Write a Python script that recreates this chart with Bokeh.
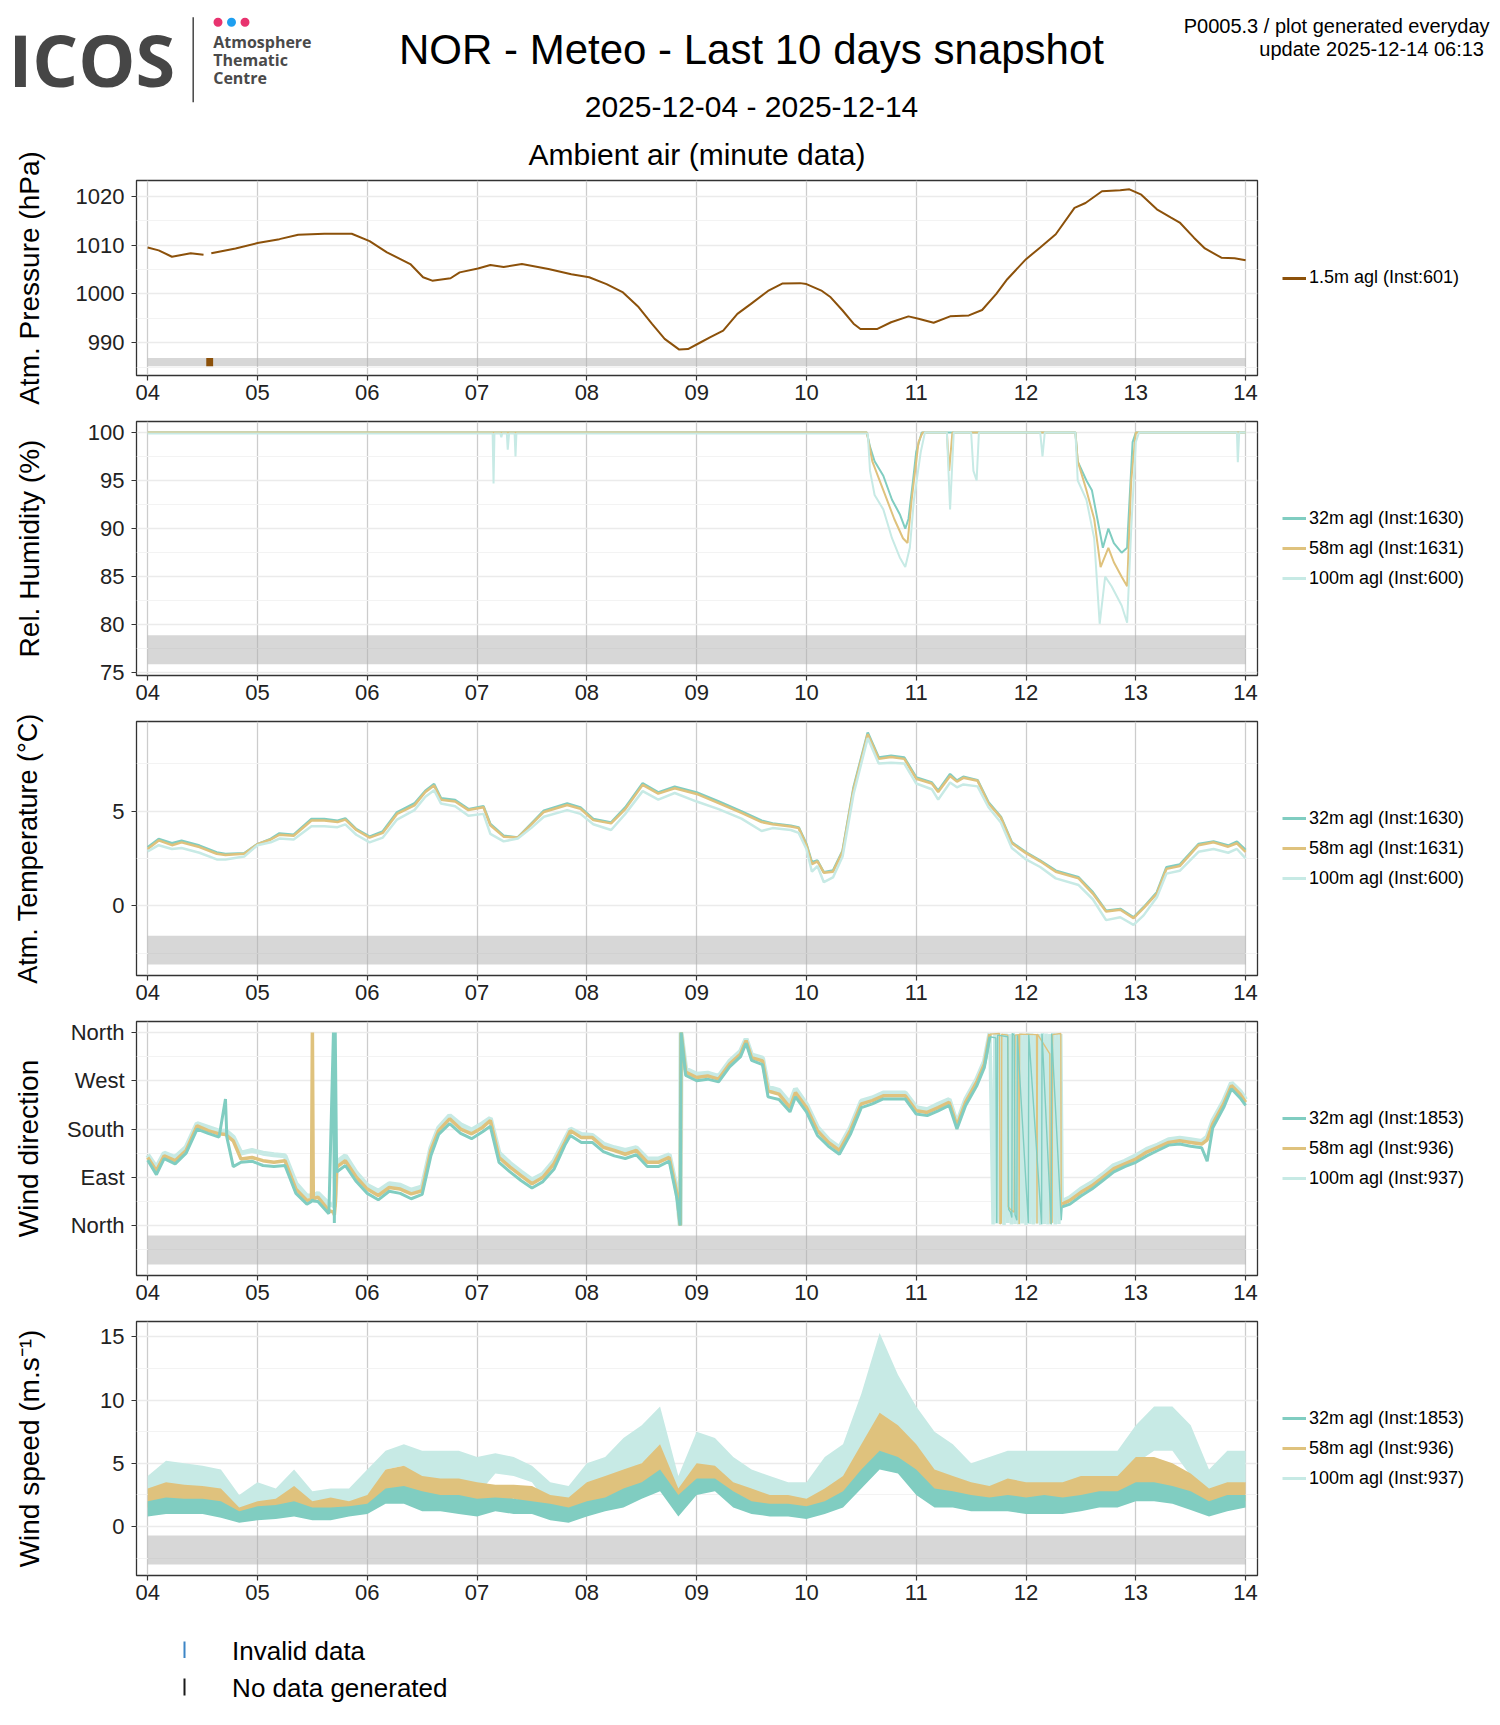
import numpy as np
import pandas as pd
from bokeh.plotting import figure
from bokeh.layouts import row
from bokeh.models import Range1d, FixedTicker, DatetimeTickFormatter, Legend, LegendItem, Title
from bokeh.embed import file_html
from bokeh.resources import INLINE
from bokeh.core.properties import value

nan = float("nan")

# ---------------- data (hours since 2025-12-04 00:00) ----------------
p_hours = [0, 2.4, 5.3, 9.4, 12.2, 13.0, 13.9, 19.2, 24, 28.8, 32.9, 38.6, 44.6, 48.5, 52.3, 57.4, 60.2, 62.2, 66.2, 68.2,
           72.2, 74.9, 77.8, 81.8, 87.6, 92.6, 96.5, 100.3, 103.9, 107.3, 110.2, 113.0, 116.2, 118.1, 120.5, 122.9, 125.8, 128.9, 131.8, 135.6,
           138.7, 142.6, 144, 147.4, 149.3, 151.9, 154.3, 155.8, 159.4, 162.5, 166.3, 168.5, 171.8, 175.4, 179.5, 182.4, 185.5, 187.9, 192, 195.1,
           198.5, 202.6, 205.0, 208.6, 212.6, 214.6, 217.2, 220.6, 223.7, 225.6, 228.7, 231.1, 234.7, 237.6, 240]
pressure = [1009.5, 1008.9, 1007.6, 1008.3, 1008.0, nan, 1008.3, 1009.3, 1010.4, 1011.2, 1012.1, 1012.3, 1012.3, 1010.8, 1008.5, 1006.1, 1003.4, 1002.7, 1003.2, 1004.4,
            1005.2, 1005.9, 1005.5, 1006.1, 1005.1, 1004.0, 1003.4, 1002.0, 1000.3, 997.3, 993.9, 990.8, 988.6, 988.7, 989.9, 991.1, 992.5, 995.9, 997.9, 1000.6,
            1002.1, 1002.2, 1002.0, 1000.6, 999.3, 996.6, 993.9, 992.8, 992.8, 994.2, 995.4, 994.9, 994.1, 995.4, 995.6, 996.7, 1000.0, 1003.0, 1007.1, 1009.5,
            1012.2, 1017.6, 1018.6, 1021.0, 1021.2, 1021.4, 1020.3, 1017.3, 1015.6, 1014.6, 1011.5, 1009.3, 1007.4, 1007.3, 1006.9]
p_invalid_start = [12.8]
p_invalid_end = [14.3]

rh32_hours = [0, 157.2, 157.9, 158.9, 160.8, 162.7, 164.4, 165.6, 166.3, 167.3, 168.0, 169.2, 202.8, 203.3, 205.2, 206.4, 207.6,
              208.8, 210.0, 211.2, 212.9, 214.1, 214.3, 215.3, 216.0, 240]
rh32 = [100, 100, 98.5, 97, 95.5, 93, 91.5, 90, 91, 95, 98, 100, 100, 97, 95, 94, 91, 88, 90, 88.5, 87.5, 88, 90, 99, 100, 100]
rh58_hours = [0, 157.2, 158.4, 160.8, 163.2, 165.1, 166.1, 167.0, 168.5, 169.4, 174.7, 175.2, 175.9, 202.8, 203.3, 205.2, 206.9,
              208.3, 210.0, 211.2, 212.9, 214.1, 215.0, 216.0, 240]
rh58 = [100, 100, 97, 94, 91, 89, 88.5, 93, 99, 100, 100, 96, 100, 100, 97, 94, 91, 86, 88, 86.5, 85, 84, 95, 100, 100]
rh100_hours = [0, 75.4, 75.6, 75.8, 77.1, 77.3, 77.5, 78.5, 78.7, 79.0, 80.2, 80.4, 80.6, 157.4, 157.9, 158.9, 160.8, 162.7, 164.4, 165.6,
               166.6, 167.5, 169.0, 169.9, 174.7, 175.4, 176.2, 180.0, 180.5, 181.2, 181.7, 195.1, 195.6, 196.1, 202.8, 203.3, 205.2, 206.9, 208.1, 209.3,
               210.7, 212.9, 214.1, 215.0, 216.0, 216.7, 238.1, 238.3, 238.6, 240]
rh100 = [99.9, 99.9, 94.7, 99.9, 99.9, 99.5, 99.9, 99.9, 98.2, 99.9, 99.9, 97.5, 99.9, 99.9, 96, 93.5, 92, 89, 87, 86,
         88, 93, 98, 100, 100, 92, 100, 100, 96, 95, 100, 100, 97.5, 100, 100, 95, 93, 89, 80.1, 85,
         84, 82, 80.2, 90, 99, 100, 100, 96.9, 100, 100]

t_hours = [0, 2.4, 5.3, 7.4, 11.3, 15.1, 17.0, 21.1, 24, 26.9, 28.8, 31.9, 35.8, 38.6, 41.5, 43.2, 45.6, 48.5, 51.4, 54.5,
           58.3, 60.7, 62.6, 64.1, 67.2, 70.1, 73.4, 74.9, 77.8, 80.9, 83.8, 86.6, 91.7, 94.6, 97.4, 101.3, 104.4, 108.2, 111.6, 115.2,
           120, 124.8, 129.8, 134.2, 136.6, 140.6, 142.3, 144, 145.2, 146.4, 147.8, 149.8, 151.9, 154.3, 157.4, 159.8, 162.5, 165.4, 168, 171.4,
           172.8, 175.4, 176.9, 178.3, 181.4, 183.8, 186.5, 188.9, 192, 195.1, 198.5, 203.5, 206.6, 209.5, 212.6, 215.5, 217.7, 220.6, 222.7, 225.6,
           229.7, 233.0, 236.2, 238.1, 240]
t32 = [3.09, 3.53, 3.3, 3.44, 3.18, 2.82, 2.74, 2.77, 3.26, 3.53, 3.82, 3.75, 4.58, 4.58, 4.49, 4.61, 4.05, 3.65, 3.93, 4.93,
       5.4, 6.07, 6.42, 5.68, 5.58, 5.1, 5.25, 4.32, 3.7, 3.61, 4.32, 5.02, 5.4, 5.19, 4.58, 4.4, 5.19, 6.46, 5.98, 6.28,
       5.98, 5.51, 4.98, 4.49, 4.35, 4.23, 4.14, 3.26, 2.3, 2.39, 1.77, 1.86, 2.91, 6.25, 9.14, 7.82, 7.91, 7.82, 6.77, 6.51,
       6.07, 6.95, 6.6, 6.81, 6.63, 5.46, 4.7, 3.35, 2.82, 2.39, 1.86, 1.51, 0.72, -0.25, -0.16, -0.6, -0.07, 0.72, 2.04, 2.18,
       3.26, 3.39, 3.18, 3.39, 2.95]
t58 = [3.0, 3.45, 3.2, 3.35, 3.1, 2.75, 2.68, 2.75, 3.25, 3.5, 3.75, 3.7, 4.5, 4.5, 4.42, 4.55, 4.0, 3.6, 3.85, 4.85,
       5.3, 6.0, 6.35, 5.6, 5.5, 5.05, 5.2, 4.25, 3.65, 3.6, 4.28, 4.95, 5.32, 5.12, 4.52, 4.35, 5.1, 6.38, 5.92, 6.2,
       5.9, 5.42, 4.9, 4.42, 4.3, 4.18, 4.1, 3.2, 2.2, 2.35, 1.75, 1.8, 2.85, 6.15, 9.05, 7.75, 7.85, 7.75, 6.7, 6.45,
       6.0, 6.85, 6.55, 6.75, 6.6, 5.4, 4.65, 3.3, 2.78, 2.35, 1.8, 1.45, 0.65, -0.3, -0.2, -0.65, -0.12, 0.65, 1.95, 2.1,
       3.2, 3.35, 3.12, 3.3, 2.85]
t100 = [2.87, 3.2, 3.0, 3.05, 2.8, 2.45, 2.45, 2.6, 3.2, 3.35, 3.55, 3.5, 4.2, 4.2, 4.15, 4.3, 3.75, 3.35, 3.6, 4.55,
        5.05, 5.75, 6.1, 5.4, 5.25, 4.75, 4.85, 3.8, 3.4, 3.55, 4.1, 4.7, 5.05, 4.85, 4.3, 4.0, 4.85, 6.05, 5.6, 5.95,
        5.5, 5.1, 4.6, 3.95, 4.1, 4.0, 3.85, 3.0, 1.8, 2.1, 1.25, 1.5, 2.6, 5.9, 8.85, 7.5, 7.55, 7.5, 6.45, 6.15,
        5.6, 6.5, 6.25, 6.4, 6.3, 5.2, 4.4, 3.05, 2.45, 2.05, 1.45, 1.1, 0.35, -0.75, -0.6, -1.0, -0.5, 0.45, 1.7, 1.85,
        2.85, 3.0, 2.8, 3.0, 2.5]

wd_hours = [0, 1.9, 3.6, 6.0, 8.4, 10.8, 13.2, 15.6, 17.0, 17.3, 18.7, 20.4, 22.8, 25.2, 27.6, 30.0, 32.4, 34.8, 35.8, 36.0,
            36.2, 37.2, 39.6, 40.6, 40.8, 41.0, 41.3, 43.2, 45.6, 48.0, 50.4, 52.8, 55.2, 57.6, 60.0, 61.9, 63.6, 66.0, 68.4, 70.8,
            73.2, 74.9, 76.8, 79.2, 81.6, 84.0, 86.4, 88.8, 91.2, 92.4, 94.8, 97.2, 99.6, 102.0, 104.4, 106.8, 109.2, 111.6, 114.0, 115.7,
            116.4, 116.6, 117.6, 120.0, 122.4, 124.8, 127.2, 129.6, 130.8, 132.0, 134.4, 135.6, 138.0, 140.4, 141.6, 144.0, 146.4, 148.8, 151.2, 153.6,
            156.0, 158.4, 160.8, 163.2, 165.6, 168.0, 170.4, 172.8, 175.2, 176.9, 178.8, 181.2, 182.9, 184.1, 192.0, 199.9, 201.6, 204.0, 206.4, 208.8,
            211.2, 213.6, 216.0, 218.4, 220.8, 223.2, 225.6, 228.0, 230.4, 231.6, 232.8, 235.2, 236.9, 238.8, 240.0]
wd32 = [122, 95, 125, 115, 135, 180, 172, 165, 236, 165, 110, 118, 120, 112, 110, 112, 60, 40, 45, 48,
        46, 45, 22, 360, 5, 360, 100, 112, 82, 60, 48, 64, 60, 50, 58, 130, 170, 190, 172, 162,
        175, 185, 118, 100, 84, 70, 82, 105, 150, 168, 155, 155, 138, 130, 125, 132, 110, 110, 120, 50,
        0, 360, 280, 270, 273, 268, 296, 315, 340, 308, 300, 240, 235, 212, 240, 212, 168, 148, 133, 170,
        220, 227, 236, 236, 236, 208, 205, 214, 224, 180, 224, 260, 295, 352, nan, 35, 40, 55, 68, 84,
        100, 110, 118, 130, 140, 150, 152, 148, 145, 120, 182, 220, 255, 238, 224]
wd58 = [127, 102, 130, 121, 140, 186, 177, 171, 170, 168, 158, 124, 127, 121, 118, 121, 68, 47, 48, 360,
        50, 53, 28, 25, 20, 40, 109, 121, 90, 68, 56, 71, 68, 59, 65, 140, 177, 199, 180, 171,
        183, 196, 127, 109, 93, 78, 90, 115, 155, 177, 164, 164, 146, 140, 133, 140, 118, 118, 127, 59,
        0, 360, 286, 276, 279, 273, 301, 320, 345, 313, 307, 251, 245, 220, 248, 220, 177, 155, 140, 177,
        227, 233, 242, 242, 242, 214, 211, 220, 230, 186, 230, 267, 301, 357, nan, 40, 47, 62, 74, 90,
        106, 115, 124, 137, 146, 155, 158, 155, 152, 160, 189, 227, 261, 245, 230]
wd100 = [132, 108, 135, 127, 146, 190, 183, 176, 176, 175, 165, 135, 140, 135, 132, 130, 78, 55, 55, 56,
         55, 60, 40, 38, 35, 60, 118, 130, 98, 75, 64, 78, 75, 66, 72, 145, 182, 205, 188, 178,
         190, 200, 135, 116, 100, 85, 96, 120, 160, 180, 170, 168, 152, 145, 140, 145, 124, 124, 132, 65,
         0, 360, 292, 282, 284, 278, 306, 325, 348, 318, 312, 258, 252, 228, 255, 226, 183, 160, 145, 182,
         232, 238, 247, 247, 247, 220, 216, 226, 235, 190, 235, 272, 306, 358, nan, 45, 52, 68, 80, 95,
         112, 120, 130, 142, 150, 160, 163, 160, 157, 165, 195, 232, 266, 250, 235]
# northerly spell (direction wrapping round 0/360)
wd32_n_hours = [184.1, 185.4, 185.6, 185.8, 188.0, 188.2, 188.6, 188.9, 189.0, 189.4, 189.6, 190.0, 190.1, 192.5, 192.6,
                195.4, 195.5, 197.5, 197.6, 199.7, 199.9]
wd32_n = [352, 350, 5, 355, 352, 30, 25, 15, 358, 355, 20, 10, 355, 5, 356, 3, 357, 2, 358, 10, 35]
wd58_n_hours = [184.1, 186.2, 186.3, 186.6, 186.7, 188.0, 188.1, 188.6, 189.4, 189.6, 190.4, 190.5, 190.6, 194.3, 194.4,
                194.5, 197.2, 197.3, 197.7, 197.8, 199.6, 199.7, 199.9]
wd58_n = [357, 358, 3, 5, 357, 355, 35, 30, 25, 355, 356, 3, 357, 356, 4, 357, 320, 4, 6, 356, 358, 30, 40]
wd100_n_hours = [184.1, 184.8, 185.2, 185.6, 186.0, 186.4, 186.8, 187.2, 187.6, 188.0, 188.4, 188.8, 189.2, 189.6, 190.0,
                 190.4, 190.8, 191.2, 191.6, 192.0, 192.4, 192.8, 193.2, 193.6, 194.0, 194.4, 194.8, 195.2, 195.6, 196.0,
                 196.4, 196.8, 197.2, 197.6, 198.0, 198.4, 198.8, 199.2, 199.6, 199.9]
wd100_n = [358, 2, 357, 4, 359, 3, 356, 1, 358, 5, 357, 2, 359, 3, 356, 2, 358, 4, 357, 1,
           359, 3, 358, 2, 356, 4, 357, 1, 359, 3, 358, 2, 357, 5, 359, 2, 358, 3, 357, 45]

ws_hours = list(range(0, 241, 4))
ws32_lo = [0.8, 1.0, 1.0, 1.0, 0.7, 0.3, 0.5, 0.6, 0.8, 0.5, 0.5, 0.8, 1.0, 1.8, 1.8, 1.2, 1.2, 1.0, 0.8, 1.2,
           1.0, 1.0, 0.5, 0.3, 0.8, 1.2, 1.5, 2.2, 2.8, 0.8, 2.5, 2.8, 1.5, 1.0, 0.8, 0.8, 0.6, 1.0, 1.5, 3.0,
           4.5, 4.2, 2.5, 1.5, 1.5, 1.2, 1.2, 1.2, 1.0, 1.0, 1.0, 1.2, 1.5, 1.5, 2.0, 2.0, 1.8, 1.3, 0.8, 1.2, 1.5]
ws32_hi = [2.0, 2.3, 2.2, 2.2, 2.0, 1.2, 1.6, 1.7, 2.0, 1.5, 1.5, 1.6, 1.8, 3.0, 3.2, 2.8, 2.5, 2.5, 2.2, 2.3,
           2.2, 2.0, 1.8, 1.5, 2.0, 2.3, 3.0, 3.5, 4.5, 2.5, 3.8, 3.8, 2.8, 2.0, 1.8, 1.8, 1.6, 2.0, 2.8, 4.5,
           6.0, 5.5, 4.5, 3.0, 2.8, 2.5, 2.3, 2.5, 2.3, 2.5, 2.3, 2.5, 2.8, 2.8, 3.5, 3.5, 3.2, 2.8, 2.0, 2.5, 2.5]
ws58_lo = [1.5, 1.8, 1.8, 1.8, 1.5, 0.5, 0.7, 0.9, 1.2, 0.7, 0.8, 1.0, 1.3, 2.5, 3.0, 2.0, 2.0, 1.8, 1.5, 2.0,
           2.2, 1.8, 1.0, 0.8, 1.5, 2.0, 2.5, 3.2, 4.0, 1.0, 3.0, 3.2, 2.0, 1.5, 1.2, 1.2, 1.0, 1.5, 2.0, 3.5,
           5.5, 5.0, 3.5, 2.0, 2.0, 1.8, 1.8, 2.0, 1.8, 1.8, 1.5, 2.0, 2.2, 2.0, 3.0, 3.0, 2.5, 2.0, 1.2, 2.0, 2.0]
ws58_hi = [3.0, 3.5, 3.3, 3.2, 3.0, 1.5, 2.0, 2.2, 3.2, 2.0, 2.3, 2.0, 2.5, 4.5, 4.8, 4.0, 3.8, 3.8, 3.5, 3.3,
           3.3, 3.2, 2.5, 2.3, 3.5, 4.0, 4.5, 5.0, 6.5, 3.0, 5.0, 4.8, 3.5, 3.0, 2.5, 2.5, 2.2, 3.0, 4.0, 6.5,
           9.0, 8.0, 6.5, 4.5, 4.0, 3.5, 3.2, 3.8, 3.5, 3.5, 3.5, 4.0, 4.0, 4.0, 5.5, 5.5, 5.0, 4.2, 3.0, 3.5, 3.5]
ws100_lo = [2.5, 3.0, 3.2, 3.2, 2.5, 0.6, 1.0, 1.2, 1.5, 0.8, 1.0, 1.2, 2.0, 4.5, 4.8, 3.0, 3.0, 3.0, 2.5, 4.2,
            4.0, 3.5, 1.5, 1.2, 2.5, 3.5, 4.0, 5.0, 6.0, 1.0, 4.5, 4.5, 3.0, 2.5, 2.0, 2.0, 1.5, 2.5, 3.5, 6.0,
            8.5, 7.5, 5.0, 3.5, 3.5, 2.5, 3.0, 3.0, 3.0, 3.0, 2.5, 3.5, 3.5, 3.0, 5.0, 6.0, 6.0, 4.0, 1.8, 3.0, 3.5]
ws100_hi = [4.0, 5.2, 5.0, 4.8, 4.5, 2.5, 3.5, 3.0, 4.5, 2.8, 3.0, 3.0, 4.5, 6.0, 6.5, 6.0, 6.0, 6.0, 5.5, 5.8,
            5.5, 4.8, 3.5, 3.2, 5.0, 5.5, 7.0, 8.0, 9.5, 4.0, 7.5, 7.0, 5.5, 4.5, 4.0, 3.5, 3.5, 5.5, 6.5, 10.5,
            15.3, 12.0, 9.5, 7.5, 6.5, 5.0, 5.5, 6.0, 6.0, 6.0, 6.0, 6.0, 6.0, 6.0, 8.0, 9.5, 9.5, 8.0, 4.5, 6.0, 6.0]

labels_rh_t = ["32m agl (Inst:1630)", "58m agl (Inst:1631)", "100m agl (Inst:600)"]
labels_wind = ["32m agl (Inst:1853)", "58m agl (Inst:936)", "100m agl (Inst:937)"]
label_p = "1.5m agl (Inst:601)"

# ---------------- helpers ----------------
T0_MS = pd.Timestamp("2025-12-04 00:00").timestamp() * 1000.0


def tx(hours):
    return T0_MS + np.asarray(hours, dtype=float) * 3.6e6


FONT = "Liberation Sans"
W = 1492
LEFT, FRAME_W, RIGHT = 136, 1121, 2
PW = LEFT + FRAME_W + RIGHT          # width of the plotting figure
LW = W - PW                          # width of the legend figure
C32, C58, C100, CP = "#80CDC1", "#DFC27D", "#C7EAE5", "#8C510A"
day_ticks = [float(v) for v in tx([24 * i for i in range(11)])]


def make_panel(height, top, bottom, yrange, yticks, yminor, ylabel, lab_standoff, band, overrides=None,
               label_size="28px"):
    p = figure(width=PW, height=height, output_backend="svg", toolbar_location=None, title=None,
               x_axis_type="datetime", x_range=Range1d(float(tx(-2.45)), float(tx(242.6))),
               y_range=Range1d(*yrange), min_border_left=LEFT, min_border_right=RIGHT,
               min_border_top=top, min_border_bottom=bottom)
    p.outline_line_color = "#333333"
    p.outline_line_width = 1.3
    xa, ya = p.xaxis[0], p.yaxis[0]
    xa.ticker = FixedTicker(ticks=day_ticks)
    xa.formatter = DatetimeTickFormatter(microseconds="%d", milliseconds="%d", seconds="%d", minsec="%d",
                                         minutes="%d", hourmin="%d", hours="%d", days="%d", months="%d", years="%d")
    ya.ticker = FixedTicker(ticks=yticks, minor_ticks=yminor)
    if overrides:
        ya.major_label_overrides = overrides
    for ax in (xa, ya):
        ax.axis_line_color = None
        ax.major_tick_line_color = "#333333"
        ax.major_tick_line_width = 1.2
        ax.major_tick_out = 5
        ax.major_tick_in = 0
        ax.minor_tick_line_color = None
        ax.major_label_text_font = FONT
        ax.major_label_text_font_size = "22px"
        ax.major_label_text_color = "#222222"
    xa.major_label_standoff = 4
    ya.major_label_standoff = 7
    ya.axis_label = ylabel
    ya.axis_label_text_font = FONT
    ya.axis_label_text_font_size = label_size
    ya.axis_label_text_font_style = "normal"
    ya.axis_label_text_color = "#000000"
    ya.axis_label_standoff = lab_standoff
    p.xgrid.ticker = xa.ticker
    p.xgrid.grid_line_color = "#cccccc"
    p.xgrid.grid_line_width = 1.3
    p.ygrid.ticker = ya.ticker
    p.ygrid.grid_line_color = "#ebebeb"
    p.ygrid.grid_line_width = 1.6
    p.ygrid.minor_grid_line_color = "#f3f3f3"
    p.ygrid.minor_grid_line_width = 1.0
    p.quad(left=tx([0]), right=tx([240]), bottom=[band[0]], top=[band[1]],
           fill_color="#b0b0b0", fill_alpha=0.5, line_color=None)
    return p


def legend_panel(height, top, bottom, entries):
    lf = figure(width=LW, height=height, output_backend="svg", toolbar_location=None, title=None,
                x_range=Range1d(0, 1), y_range=Range1d(0, 1), x_axis_location=None, y_axis_location=None,
                min_border_left=0, min_border_right=0, min_border_top=top, min_border_bottom=bottom)
    lf.outline_line_color = None
    lf.grid.visible = False
    items = []
    for label, color in entries:
        r = lf.line(x=[0.5], y=[nan], line_color=color, line_width=3)
        items.append(LegendItem(label=label, renderers=[r]))
    lg = Legend(items=items, location="center_left", border_line_color=None, background_fill_alpha=0,
                label_text_font=FONT, label_text_font_size="18px", label_text_color="#000000",
                glyph_width=24, glyph_height=22, label_height=22, spacing=8, label_standoff=3,
                margin=23, padding=0)
    lf.add_layout(lg, "center")
    return lf


def blank(height):
    p = figure(width=W, height=height, output_backend="svg", toolbar_location=None, title=None,
               x_range=Range1d(0, W), y_range=Range1d(height, 0),
               x_axis_location=None, y_axis_location=None, min_border=0)
    p.outline_line_color = None
    p.grid.visible = False
    return p


# ---------------- header (coordinates are page pixels, y = vertical centre of text) ----------------
hdr = blank(124)
hdr.text(x=[8], y=[58.4], text=["ICOS"], text_font=value("Open Sans"), text_font_style="bold",
         text_font_size="72px", text_color="#464646", text_baseline="middle", text_align="left")
hdr.segment(x0=[192.7], y0=[16.7], x1=[192.7], y1=[101.7], line_color="#464646", line_width=1.5)
hdr.scatter(x=[217.5, 231, 244.5], y=[21.7, 21.7, 21.7], size=9,
            fill_color=["#e8336f", "#1e9ff0", "#e8336f"], line_color=None)
hdr.text(x=[212.7, 212.7, 212.7], y=[41.2, 59.5, 77.8], text=["Atmosphere", "Thematic", "Centre"],
         text_font=value("Open Sans"), text_font_style="bold", text_font_size="16px", text_color="#4a4a4a",
         text_baseline="middle", text_align="left")
hdr.text(x=[751], y=[48.7], text=["NOR - Meteo - Last 10 days snapshot"], text_font=value(FONT),
         text_font_size="42px", text_color="#000000", text_baseline="middle", text_align="center")
hdr.text(x=[751], y=[105.5], text=["2025-12-04 - 2025-12-14"], text_font=value(FONT),
         text_font_size="30px", text_color="#000000", text_baseline="middle", text_align="center")
hdr.text(x=[1489, 1489], y=[25, 48], text=["P0005.3 / plot generated everyday", "update  2025-12-14 06:13"],
         text_font=value(FONT), text_font_size="20px", text_color="#000000",
         text_baseline="middle", text_align="right")

# ---------------- pressure ----------------
p1 = make_panel(292, 56, 41, (983.3, 1023.2), [990, 1000, 1010, 1020], [985, 995, 1005, 1015, 1025],
                "Atm. Pressure (hPa)", 28, (985.2, 986.9))
p1.add_layout(Title(text="Ambient air (minute data)", align="center", text_font=FONT, text_font_size="30px",
                    text_font_style="normal", text_color="#000000", standoff=20), "above")
p1.line(tx(p_hours), pressure, line_color=CP, line_width=2)
p1.quad(left=tx(p_invalid_start), right=tx(p_invalid_end), bottom=[985.2], top=[986.9],
        fill_color=CP, line_color=None)
l1 = legend_panel(292, 56, 41, [(label_p, CP)])

# ---------------- relative humidity ----------------
p2 = make_panel(294, 5, 35, (74.72, 101.14), [75, 80, 85, 90, 95, 100], [77.5, 82.5, 87.5, 92.5, 97.5],
                "Rel. Humidity (%)", 40, (75.9, 78.9))
p2.line(tx(rh32_hours), rh32, line_color=C32, line_width=2)
p2.line(tx(rh58_hours), rh58, line_color=C58, line_width=2)
p2.line(tx(rh100_hours), rh100, line_color=C100, line_width=2)
l2 = legend_panel(294, 5, 35, list(zip(labels_rh_t, [C32, C58, C100])))

# ---------------- temperature ----------------
p3 = make_panel(306, 11, 41, (-3.67, 9.72), [0, 5], [-2.5, 2.5, 7.5],
                "Atm. Temperature (\u00b0C)", 66, (-3.09, -1.57), label_size="27px")
p3.line(tx(t_hours), t32, line_color=C32, line_width=2.5)
p3.line(tx(t_hours), t58, line_color=C58, line_width=2.5)
p3.line(tx(t_hours), t100, line_color=C100, line_width=2.5)
l3 = legend_panel(306, 11, 41, list(zip(labels_rh_t, [C32, C58, C100])))

# ---------------- wind direction ----------------
p4 = make_panel(300, 5, 41, (-93.1, 380.5), [0, 90, 180, 270, 360], [-45, 45, 135, 225, 315],
                "Wind direction", 20, (-72.6, -18.6),
                overrides={0: "North", 90: "East", 180: "South", 270: "West", 360: "North"})
p4.line(tx(wd_hours), wd100, line_color=C100, line_width=5)
p4.line(tx(wd100_n_hours), wd100_n, line_color=C100, line_width=3.5)
p4.line(tx(wd_hours), wd58, line_color=C58, line_width=3.5)
p4.line(tx(wd58_n_hours), wd58_n, line_color=C58, line_width=1.4)
p4.line(tx(wd_hours), wd32, line_color=C32, line_width=3)
p4.line(tx(wd32_n_hours), wd32_n, line_color=C32, line_width=1.4)
l4 = legend_panel(300, 5, 41, list(zip(labels_wind, [C32, C58, C100])))

# ---------------- wind speed ----------------
p5 = make_panel(300, 5, 41, (-3.87, 16.21), [0, 5, 10, 15], [-2.5, 2.5, 7.5, 12.5],
                "Wind speed (m.s\u207b\u00b9)", 52, (-3.0, -0.71))
p5.varea(x=tx(ws_hours), y1=ws100_lo, y2=ws100_hi, fill_color=C100)
p5.varea(x=tx(ws_hours), y1=ws58_lo, y2=ws58_hi, fill_color=C58)
p5.varea(x=tx(ws_hours), y1=ws32_lo, y2=ws32_hi, fill_color=C32)
l5 = legend_panel(300, 5, 41, list(zip(labels_wind, [C32, C58, C100])))

# ---------------- footer ----------------
ftr = blank(108)
ftr.segment(x0=[184], y0=[25], x1=[184], y1=[41.4], line_color="#3d85c6", line_width=2)
ftr.segment(x0=[184], y0=[62], x1=[184], y1=[79], line_color="#1a1a1a", line_width=2)
ftr.text(x=[231.6, 231.6], y=[34.5, 71], text=["Invalid data", "No data generated"], text_font=value(FONT),
         text_font_size="26px", text_color="#000000", text_baseline="middle", text_align="left")

roots = [hdr, row(p1, l1), row(p2, l2), row(p3, l3), row(p4, l4), row(p5, l5), ftr]
with open("out.html", "w") as f:
    f.write(file_html(roots, INLINE))
